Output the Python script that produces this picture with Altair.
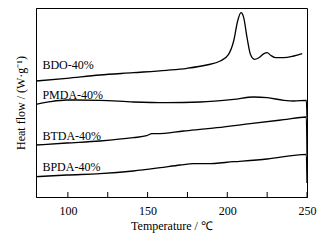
import altair as alt
import pandas as pd

# Temperature (°C) and heat-flow (arbitrary, offset) values
bdo_t = [80, 99.3, 120, 141, 162, 174.7, 187, 195.6, 200.8, 204, 206.5, 208.6, 210.3, 212.4, 214.5, 217, 219.8, 223, 225, 227.2, 230.3, 235.4, 241.7, 247]
bdo_h = [116, 118.7, 122, 124.3, 126.7, 128.7, 132, 136, 142.7, 156, 176, 184.3, 179.3, 159.3, 142.7, 137.7, 139.3, 143.3, 144.3, 141.7, 139.3, 139.3, 141, 143.3]

pmda_t = [80, 88.8, 99.3, 120, 141, 162, 183, 204, 216.5, 225, 235.4, 241.7, 249.6, 250]
pmda_h = [92.7, 95.3, 97, 96.7, 95, 94.3, 95, 97.7, 100, 99.3, 96.7, 96, 96.7, 80]

btda_t = [80, 99.3, 120, 141, 149.5, 152.7, 155.8, 172.6, 193.5, 214.4, 235.4, 249.6, 250]
btda_h = [52, 54, 56, 59.3, 61.3, 63.3, 63.3, 66, 69.3, 73.3, 77.3, 80, 42.7]

bpda_t = [80, 99.3, 120, 141, 157.9, 170.5, 178.8, 187.2, 204, 225, 249.6, 250]
bpda_h = [20.3, 22, 23.3, 26, 29.3, 32, 33.3, 33.3, 35.3, 38, 42.7, 14]

series_names = ["BDO-40%", "PMDA-40%", "BTDA-40%", "BPDA-40%"]
label_t = [84, 84, 84, 84]
label_h = [132, 102.5, 61.5, 30]

tick_values = [100, 125, 150, 175, 200, 225, 250]
label_values = [100, 150, 200, 250]

rows = []
for name, ts, hs in zip(series_names, [bdo_t, pmda_t, btda_t, bpda_t], [bdo_h, pmda_h, btda_h, bpda_h]):
    for i, (t, h) in enumerate(zip(ts, hs)):
        rows.append({"series": name, "T": t, "H": h, "i": i})
df = pd.DataFrame(rows)
labels_df = pd.DataFrame({"series": series_names, "T": label_t, "H": label_h})
ticks_df = pd.DataFrame({"T": tick_values})

FONT = "Liberation Serif"
xscale = alt.Scale(domain=[80, 250], nice=False, zero=False)
yscale = alt.Scale(domain=[0, 189], nice=False, zero=False)

lines = alt.Chart(df).mark_line(color="black", strokeWidth=1.3, interpolate="monotone").encode(
    x=alt.X("T:Q", scale=xscale, axis=alt.Axis(
        title="Temperature / ℃", values=label_values, ticks=False, grid=False,
        labelFont=FONT, labelFontSize=12, labelColor="black", labelPadding=8,
        titleFont=FONT, titleFontSize=12, titleFontWeight="normal", titleColor="black",
        titlePadding=4, domainColor="black", labelFlush=False)),
    y=alt.Y("H:Q", scale=yscale, axis=alt.Axis(
        title="Heat flow / (W·g⁻¹)", labels=False, ticks=False, grid=False,
        titleFont=FONT, titleFontSize=12, titleFontWeight="normal", titleColor="black",
        titlePadding=9, domainColor="black")),
    detail="series:N",
    order="i:Q",
)

ticks = alt.Chart(ticks_df).mark_rule(color="black", strokeWidth=1).encode(
    x=alt.X("T:Q", scale=xscale),
    y=alt.datum(0),
    y2=alt.datum(5),
)

texts = alt.Chart(labels_df).mark_text(
    align="left", baseline="middle", font=FONT, fontSize=12, color="black"
).encode(
    x=alt.X("T:Q", scale=xscale),
    y=alt.Y("H:Q", scale=yscale),
    text="series:N",
)

chart = alt.layer(lines, ticks, texts).properties(
    width=271, height=189,
    autosize=alt.AutoSizeParams(type="none"),
    padding={"left": 28, "top": 0, "right": 12, "bottom": 36},
).configure_view(stroke="black", strokeWidth=1)

chart.save("out.html", embed_options={"renderer": "svg", "actions": False})
